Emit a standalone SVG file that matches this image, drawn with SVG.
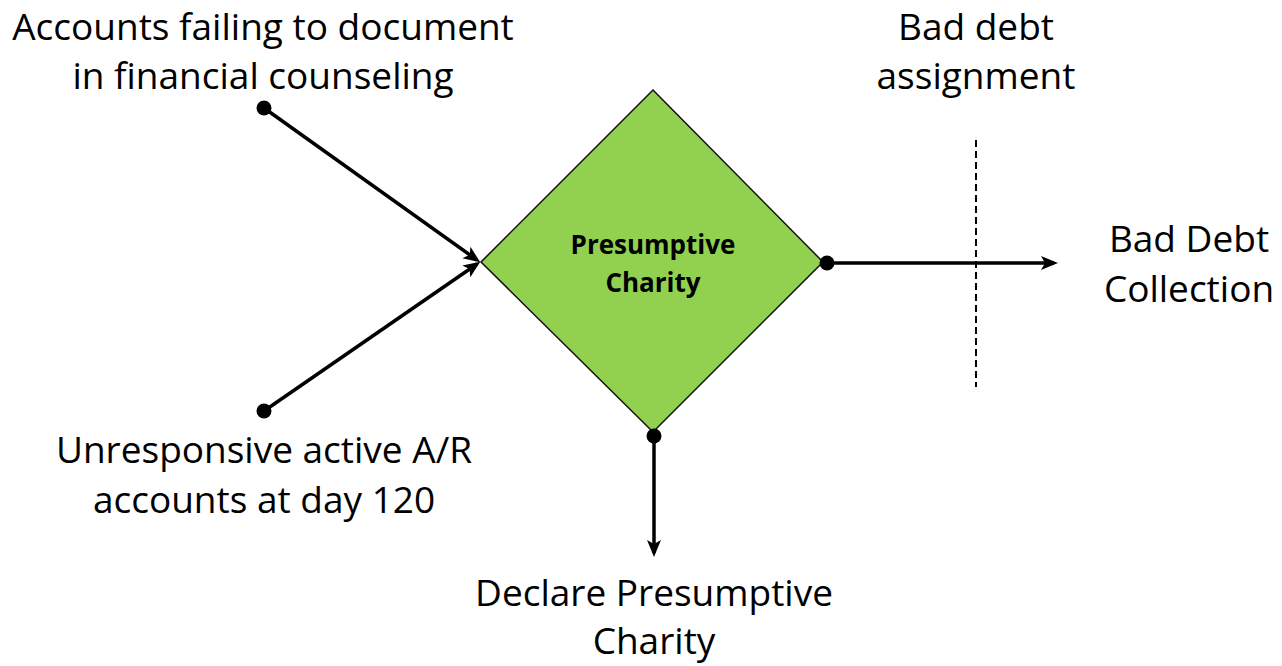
<svg xmlns="http://www.w3.org/2000/svg" width="1282" height="666" viewBox="0 0 1282 666">
<style>
.lbl{font-family:"Open Sans","Liberation Sans",sans-serif;font-size:37px;fill:#000;text-anchor:middle}
.ctr{font-family:"Open Sans","Liberation Sans",sans-serif;font-size:26px;font-weight:bold;fill:#000;text-anchor:middle}
.conn{stroke:#000;stroke-width:3.5;fill:none}
.dot{fill:#000}
</style>
<defs>
<marker id="arr" markerUnits="userSpaceOnUse" markerWidth="20" markerHeight="16" refX="13" refY="7" orient="auto" overflow="visible">
<path d="M0,0 L17,7 L0,14 L4,7 z" fill="#000"/>
</marker>
</defs>
<rect width="1282" height="666" fill="#fff"/>
<g id="node-diamond">
<polygon points="653,90 823,262 653,432 481,262" fill="#92D050" stroke="#111" stroke-width="1.5"/>
<text class="ctr" x="653" y="254">Presumptive</text>
<text class="ctr" x="653" y="292">Charity</text>
</g>
<g id="node-accounts-failing">
<text class="lbl" x="263" y="40">Accounts failing to document</text>
<text class="lbl" x="263" y="89">in financial counseling</text>
</g>
<g id="node-unresponsive">
<text class="lbl" x="264" y="463">Unresponsive active A/R</text>
<text class="lbl" x="264" y="513">accounts at day 120</text>
</g>
<g id="node-bad-debt-assignment">
<text class="lbl" x="976" y="40">Bad debt</text>
<text class="lbl" x="976" y="89">assignment</text>
</g>
<g id="node-bad-debt-collection">
<text class="lbl" x="1189" y="252">Bad Debt</text>
<text class="lbl" x="1189" y="302">Collection</text>
</g>
<g id="node-declare">
<text class="lbl" x="654" y="606">Declare Presumptive</text>
<text class="lbl" x="654" y="654">Charity</text>
</g>
<g id="connectors">
<line x1="976" y1="140" x2="976" y2="387" stroke="#000" stroke-width="2" stroke-dasharray="7,4"/>
<line class="conn" x1="264" y1="108" x2="477" y2="260" marker-end="url(#arr)"/>
<line class="conn" x1="264" y1="411" x2="477" y2="264" marker-end="url(#arr)"/>
<line class="conn" x1="827" y1="263" x2="1054" y2="263" marker-end="url(#arr)"/>
<line class="conn" x1="654" y1="436" x2="654" y2="553" marker-end="url(#arr)"/>
<circle class="dot" cx="264" cy="108" r="7.5"/>
<circle class="dot" cx="264" cy="411" r="7.5"/>
<circle class="dot" cx="827" cy="263" r="7.5"/>
<circle class="dot" cx="654" cy="436" r="7.5"/>
</g>
</svg>
